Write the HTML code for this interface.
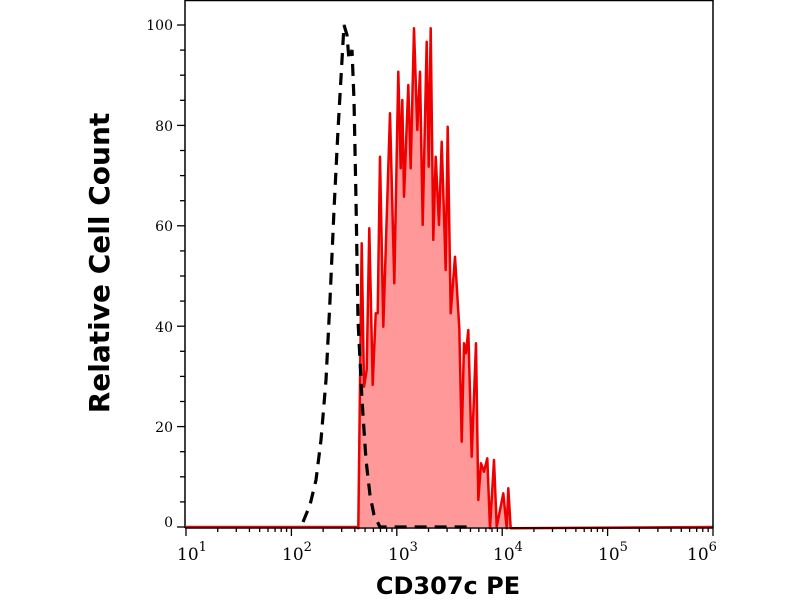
<!DOCTYPE html>
<html><head><meta charset="utf-8"><style>
html,body{margin:0;padding:0;background:#fff;}
svg{display:block;}
</style></head><body>
<svg id="s" width="800" height="600" viewBox="0 0 800 600" xmlns="http://www.w3.org/2000/svg">
<rect x="0" y="0" width="800" height="600" fill="#fff"/>
<g id="data"></g>
<g id="ax" stroke="#000" stroke-width="1.3" fill="none"></g>
<line x1="185" y1="0.5" x2="713" y2="0.5" stroke="#000" stroke-width="1.5"/>
<line x1="713" y1="0" x2="713" y2="528" stroke="#000" stroke-width="1.5"/>
<line x1="185" y1="0" x2="185" y2="528" stroke="#000" stroke-width="1.5"/>
<line x1="185" y1="528" x2="713" y2="528" stroke="#000" stroke-width="1.5"/>
<g font-family="DejaVu Serif, serif" font-size="14" fill="#000" text-anchor="end">
<text x="173" y="30">100</text>
<text x="173" y="131">80</text>
<text x="173" y="231">60</text>
<text x="173" y="332">40</text>
<text x="173" y="432">20</text>
<text x="173" y="527">0</text>
</g>
<g font-family="DejaVu Serif, serif" font-size="17" fill="#000">
<text x="177" y="560">10<tspan font-size="13" dy="-9">1</tspan></text>
<text x="282" y="560">10<tspan font-size="13" dy="-9">2</tspan></text>
<text x="388" y="560">10<tspan font-size="13" dy="-9">3</tspan></text>
<text x="493" y="560">10<tspan font-size="13" dy="-9">4</tspan></text>
<text x="598" y="560">10<tspan font-size="13" dy="-9">5</tspan></text>
<text x="687" y="560">10<tspan font-size="13" dy="-9">6</tspan></text>
</g>
<text x="448" y="594" font-family="DejaVu Sans, sans-serif" font-weight="bold" font-size="24" text-anchor="middle">CD307c PE</text>
<text transform="translate(109,263) rotate(-90)" font-family="DejaVu Sans, sans-serif" font-weight="bold" font-size="28" text-anchor="middle">Relative Cell Count</text>
</svg>
<script>
var ns="http://www.w3.org/2000/svg";
function el(t,a,p){var e=document.createElementNS(ns,t);for(var k in a)e.setAttribute(k,a[k]);p.appendChild(e);return e;}
var ax=document.getElementById("ax"),dg=document.getElementById("data");
for(var v=0;v<=100;v+=5){var y=527-v*5.02;el("line",{x1:v%20==0?177:180,y1:y,x2:185,y2:y},ax);}
var x0=186,dec=105.4;
for(var d=1;d<=6;d++){var x=x0+(d-1)*dec;el("line",{x1:x,y1:528,x2:x,y2:536},ax);
 if(d<6)for(var m=2;m<=9;m++){var xx=x+Math.log10(m)*dec;el("line",{x1:xx,y1:528,x2:xx,y2:532},ax);}}
var R=[[55,1525],[65,670],[72,1100],[80,1050],[88,625],[98,1095],[107,880],[113,880],[120,410],[130,920],[150,280],[163,790],[175,155],[182,445],[187,240],[192,530],[205,195],[212,445],[222,25],[232,330],[240,155],[248,615],[260,65],[266,440],[272,25],[280,660],[287,410],[297,615],[305,365],[317,750],[323,320],[332,880],[345,710],[358,925],[365,1265],[372,970],[378,1000],[385,930],[395,1310],[408,970],[415,1440],[423,1330],[432,1355],[442,1315],[450,1525],[462,1320],[470,1520],[482,1460],[490,1420],[500,1525],[505,1405],[512,1525]];
var pts=R.map(function(p){return [340+p[0]/3,20+p[1]/3];});
var fill="M358.3,527 "+pts.map(function(p){return "L"+p[0].toFixed(1)+","+p[1].toFixed(1);}).join(" ")+" L510.7,527 Z";
el("path",{d:fill,fill:"#ff9999",stroke:"none"},dg);
var line="M186,527 L358.3,527 "+pts.map(function(p){return "L"+p[0].toFixed(1)+","+p[1].toFixed(1);}).join(" ")+" L713,527";
el("path",{d:line,fill:"none",stroke:"#ee0000","stroke-width":2.5,"stroke-linejoin":"round"},dg);
var B=[[303,522],[310,505],[316,480],[321,440],[326,380],[330,300],[334,210],[338,130],[342,60],[344,25],[347,35],[349,60],[352,50],[354,100],[356,200],[358,320],[362,400],[366,460],[370,495],[374,515],[380,527],[470,527]];
el("path",{d:"M"+B.map(function(p){return p.join(",");}).join(" L"),fill:"none",stroke:"#000","stroke-width":3.2,"stroke-dasharray":"12,8"},dg);
</script>
</body></html>
